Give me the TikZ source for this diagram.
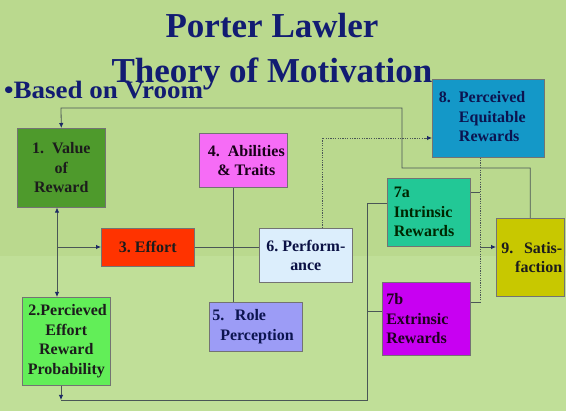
\documentclass[tikz,border=0pt]{standalone}
\usepackage{fontspec}
\setmainfont{Liberation Serif}
\usetikzlibrary{arrows.meta}
\definecolor{bgtop}{HTML}{BAD98E}
\definecolor{bgbot}{HTML}{C0DF98}
\definecolor{navy}{HTML}{121C72}
\definecolor{txt}{HTML}{1C1C1C}
\definecolor{ln}{HTML}{4A5656}
\definecolor{tipc}{HTML}{1E2A66}
\definecolor{cA}{HTML}{4E9A2C}
\definecolor{cB}{HTML}{62EE58}
\definecolor{cC}{HTML}{FF3300}
\definecolor{cD}{HTML}{F66CF6}
\definecolor{cE}{HTML}{9C9CF6}
\definecolor{cF}{HTML}{DCEEFC}
\definecolor{cG}{HTML}{22C896}
\definecolor{cH}{HTML}{C800F2}
\definecolor{cI}{HTML}{1498C8}
\definecolor{cJ}{HTML}{C8C800}
\tikzset{
  x=1pt,y=-1pt,
  box/.style={draw=black!55, line width=0.6pt, anchor=north west, inner sep=2pt,
    font=\bfseries\fontsize{16}{19.5}\selectfont, text=txt},
  conn/.style={draw=ln, line width=0.8pt},
  arr/.tip={Latex[length=5pt,width=4.5pt,color=tipc]},
  tip/.style={-arr, draw=ln, line width=0.8pt},
  dots/.style={draw=ln, line width=0.8pt, dash pattern=on 1.2pt off 1.2pt},
}
\begin{document}
\begin{tikzpicture}
\useasboundingbox (0,0) rectangle (566,411);
\fill[bgtop] (0,0) rectangle (566,256);
\fill[bgbot] (0,256) rectangle (566,411);

% titles
\node[anchor=base, text=navy, font=\bfseries\fontsize{35}{40}\selectfont, inner sep=0pt] (title1) at (272,38) {Porter Lawler};
\node[anchor=base, text=navy, font=\bfseries\fontsize{35}{40}\selectfont, inner sep=0pt] (title2) at (272,83) {Theory of Motivation};
\node[anchor=base west, text=navy, font=\bfseries\fontsize{25}{30}\selectfont, inner sep=0pt, xscale=1.08] (sub) at (4,99) {\textbullet Based on Vroom};

% boxes
\node[box, fill=cA, minimum width=88, minimum height=79, align=center] (b1) at (17,128) {1.\ \ Value\\of\\Reward};
\node[box, fill=cB, minimum width=88, minimum height=88, align=center, inner xsep=0pt] (b2) at (22,297) {\,2.Percieved\\Effort\\Reward\\Probability};
\node[box, fill=cC, minimum width=93, minimum height=38, align=center] (b3) at (101,228) {3.\ Effort};
\node[box, fill=cD, minimum width=88, minimum height=54, align=center, inner xsep=0pt, text=black!80!violet] (b4) at (199,133) {\hspace*{6pt}4.\ \ Abilities\\\hspace*{6pt}\& Traits};
\node[box, fill=cE, minimum width=93, minimum height=49, align=left, text width=87, text=navy!70!black] (b5) at (209,302) {5.\ \ Role\\\hspace*{8pt}Perception};
\node[box, fill=cF, minimum width=93, minimum height=54, align=center, text=navy!60!black] (b6) at (259,228) {6.\ Perform-\\ance};
\node[box, fill=cG, minimum width=83, minimum height=68, align=left, text width=70, inner xsep=6pt, text=black!85!green] (b7a) at (387,178) {7a\\Intrinsic\\Rewards};
\node[box, fill=cH, minimum width=88, minimum height=73, align=left, text width=80, text=black!75!violet] (b7b) at (382,282) {7b\\Extrinsic\\Rewards};
\node[box, fill=cI, minimum width=112, minimum height=78, text=navy!70!black] (b8) at (432,79) {\begin{tabular}{@{}l@{\ \ }l@{}}8. & Perceived\\ & Equitable\\ & Rewards\end{tabular}\hspace*{12pt}};
\node[box, fill=cJ, minimum width=68, minimum height=78, align=right, text width=64, inner xsep=1pt] (b9) at (496,218) {9.\ \ Satis-\\faction};

% helper coordinates
\coordinate (t1) at (402,168);
\coordinate (t2) at (61,108);
\coordinate (v) at (57,247);
\coordinate (m45) at (233,247);
\coordinate (d1) at (322,138);
\coordinate (d2) at (480,302);
\coordinate (d3) at (480,192);
\coordinate (d4) at (480,247);
\coordinate (l1) at (367,203);
\coordinate (l2) at (367,400);
\coordinate (l3) at (61,400);
\coordinate (l4) at (367,311);

% connectors
\draw[tip] (b9.north) |- (t1) |- (t2) -- (b1.north);
\draw[conn, arr-arr] (b1.south -| v) -- (b2.north -| v);
\draw[tip] (v) -- (b3.west |- v);
\draw[conn] (b3.east) -- (b3.east -| b6.west);
\draw[conn] (b4.south -| m45) -- (b5.north -| m45);
\draw[dots] (b6.north -| d1) -- (d1) -- ([xshift=-6pt]d1 -| b8.west);
\draw[tip] ([xshift=-7pt]d1 -| b8.west) -- (d1 -| b8.west);
\draw[dots] (b8.south -| d2) -- (d2);
\draw[conn] (d3 -| b7a.east) -- (d3);
\draw[conn] (d2 -| b7b.east) -- (d2);
\draw[tip] (d4) -- (d4 -| b9.west);
\draw[conn] (l1 -| b7a.west) -- (l1) -- (l2) -- (l3);
\draw[conn] (l4) -- (l4 -| b7b.west);
\draw[tip] (b2.south -| l3) -- (l3);
\end{tikzpicture}
\end{document}
